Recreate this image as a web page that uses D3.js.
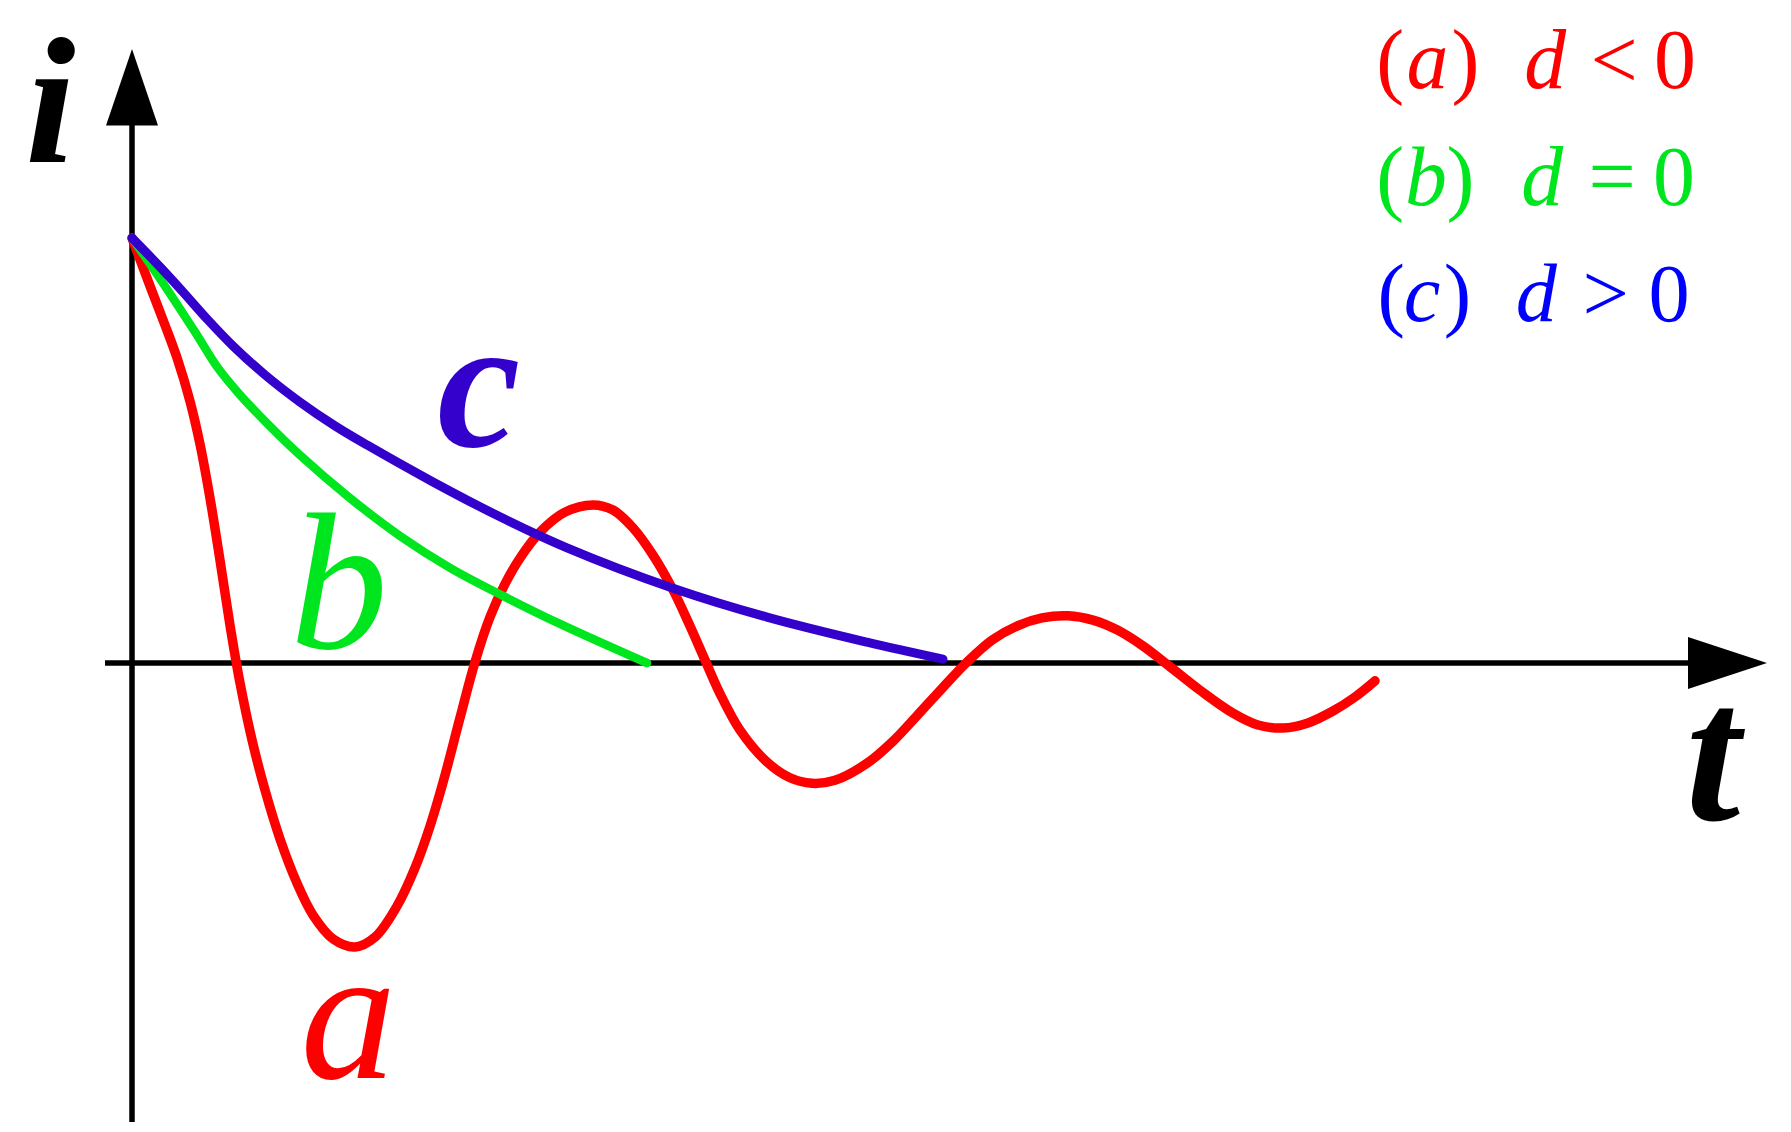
<!DOCTYPE html>
<html>
<head>
<meta charset="utf-8">
<script src="https://cdn.jsdelivr.net/npm/d3@7"></script>
<style>
html,body{margin:0;padding:0;background:#fff;}
svg{display:block;}
</style>
</head>
<body>
<svg id="chart" width="1791" height="1132"></svg>
<script>
// ---- data (t, i) ----
const seriesNames = ["a", "b", "c"];
const seriesColors = ["#ff0000", "#00e61e", "#3300cc"];
const legendColors = ["#ff0000", "#00e61e", "#0000ff"];
const legendOps = ["<", "=", ">"];

const redT = [0, 0.18, 0.33, 0.45, 0.58, 0.68, 0.78, 0.88, 0.98, 1.08, 1.20, 1.33, 1.48, 1.65, 1.81, 2.01, 2.23, 2.43, 2.65, 2.83, 2.98, 3.13, 3.28, 3.43, 3.58, 3.73, 3.88, 4.08, 4.33, 4.61, 4.81, 5.01, 5.21, 5.41, 5.58, 5.73, 5.88, 6.08, 6.35, 6.58, 6.80, 7.03, 7.35, 7.61, 7.85, 8.10, 8.35, 8.60, 8.85, 9.10, 9.36, 9.61, 9.85, 10.11, 10.36, 10.68, 11.01, 11.26, 11.51, 11.76, 12.01, 12.23, 12.43];
const redI = [1.000, 0.887, 0.795, 0.718, 0.616, 0.515, 0.388, 0.242, 0.089, -0.047, -0.181, -0.299, -0.414, -0.518, -0.593, -0.649, -0.668, -0.645, -0.572, -0.482, -0.384, -0.264, -0.129, 0.002, 0.108, 0.186, 0.247, 0.308, 0.355, 0.372, 0.360, 0.318, 0.254, 0.172, 0.087, 0.007, -0.072, -0.158, -0.233, -0.270, -0.283, -0.276, -0.236, -0.184, -0.124, -0.060, 0.002, 0.054, 0.087, 0.106, 0.111, 0.101, 0.078, 0.040, -0.005, -0.064, -0.118, -0.146, -0.153, -0.141, -0.113, -0.080, -0.042];

const greenT = [0, 0.33, 0.63, 0.86, 1.08, 1.33, 1.68, 2.18, 2.68, 3.18, 3.71, 4.28, 5.15];
const greenI = [1.0, 0.887, 0.779, 0.694, 0.631, 0.569, 0.489, 0.388, 0.299, 0.224, 0.158, 0.092, 0.0];

const blueT = [0, 0.28, 0.51, 0.76, 1.01, 1.33, 1.68, 2.03, 2.35, 3.01, 3.68, 4.35, 5.41, 6.35, 7.35, 8.11];
const blueI = [1.0, 0.932, 0.873, 0.807, 0.746, 0.678, 0.614, 0.558, 0.513, 0.426, 0.344, 0.271, 0.176, 0.108, 0.049, 0.009];

// ---- layout ----
const FAMILY = '"Liberation Serif", "Times New Roman", Tinos, "Nimbus Roman", "Nimbus Roman No9 L", FreeSerif, "DejaVu Serif", serif';
const svg = d3.select("#chart");
const x = d3.scaleLinear().domain([0, 16.35]).range([132, 1767]);
const y = d3.scaleLinear().domain([0, 1]).range([663, 238]);

const toPts = (ts, is) => ts.map((t, k) => [t, is[k]]);
const series = [
  {name: "a", pts: toPts(redT, redI), color: seriesColors[0], w: 9.5},
  {name: "b", pts: toPts(greenT, greenI), color: seriesColors[1], w: 8.5},
  {name: "c", pts: toPts(blueT, blueI), color: seriesColors[2], w: 9}
];

// axes
const axisW = 5.5;
svg.append("line").attr("x1", x(0)).attr("x2", x(0)).attr("y1", y(-1.08)).attr("y2", y(1.27))
  .attr("stroke", "#000").attr("stroke-width", axisW);
svg.append("line").attr("x1", x(-0.27)).attr("x2", x(15.6)).attr("y1", y(0)).attr("y2", y(0))
  .attr("stroke", "#000").attr("stroke-width", axisW);
const yTip = y(1.445), yBase = y(1.265);
svg.append("path").attr("d", `M${x(0)},${yTip} L${x(0) - 26},${yBase} L${x(0) + 26},${yBase} Z`).attr("fill", "#000");
const xTip = x(16.35), xBase = x(15.56);
svg.append("path").attr("d", `M${xTip},${y(0)} L${xBase},${y(0) - 26} L${xBase},${y(0) + 26} Z`).attr("fill", "#000");

// curves
series.forEach(s => {
  const line = d3.line().x(d => x(d[0])).y(d => y(d[1])).curve(d3.curveCatmullRom.alpha(0.5));
  svg.append("path").attr("d", line(s.pts)).attr("fill", "none")
    .attr("stroke", s.color).attr("stroke-width", s.w)
    .attr("stroke-linecap", "round").attr("stroke-linejoin", "round");
});

// ---- text helpers: size glyphs by their ink box ----
const ctx = document.createElement("canvas").getContext("2d");
function ink(str, style, weight) {
  ctx.font = `${style} ${weight} 100px ${FAMILY}`;
  const m = ctx.measureText(str);
  return {l: m.actualBoundingBoxLeft / 100, r: m.actualBoundingBoxRight / 100,
          a: m.actualBoundingBoxAscent / 100, d: m.actualBoundingBoxDescent / 100};
}
function addText(str, style, weight, color, size, cx, bottom) {
  const m = ink(str, style, weight);
  svg.append("text")
    .attr("x", cx - (m.r - m.l) * size / 2)
    .attr("y", bottom - m.d * size)
    .attr("font-family", FAMILY).attr("font-size", size)
    .attr("font-style", style).attr("font-weight", weight)
    .attr("fill", color).text(str);
}
function fitText(str, style, weight, color, x0, y0, x1, y1) {
  const m = ink(str, style, weight);
  const size = (y1 - y0) / (m.a + m.d);
  addText(str, style, weight, color, size, (x0 + x1) / 2, y1);
}

// axis labels
fitText("i", "italic", "bold", "#000", 32, 37, 73, 162);
fitText("t", "italic", "bold", "#000", 1695, 708, 1743, 822);

// curve labels
fitText(seriesNames[2], "italic", "bold", seriesColors[2], 440, 358, 517, 448);
fitText(seriesNames[1], "italic", "normal", seriesColors[1], 298, 513, 380, 650);
fitText(seriesNames[0], "italic", "normal", seriesColors[0], 302, 988, 393, 1080);

// legend
const legendBottom = [90, 207, 323];
const legendZeroH = [57, 57, 56];
const legendCx = [
  [1391, 1427, 1465, 1547, 1614, 1675],
  [1391, 1426, 1460, 1544, 1612, 1674],
  [1392, 1423, 1457, 1538, 1606, 1669]
];
seriesNames.forEach((nm, k) => {
  const mz = ink("0", "normal", "normal");
  const size = legendZeroH[k] / (mz.a + mz.d);
  const base = legendBottom[k] - mz.d * size;
  const pieces = [["(", "normal"], [nm, "italic"], [")", "normal"], ["d", "italic"], [legendOps[k], "normal"], ["0", "normal"]];
  pieces.forEach(([str, st], j) => {
    const m = ink(str, st, "normal");
    svg.append("text")
      .attr("x", legendCx[k][j] - (m.r - m.l) * size / 2)
      .attr("y", base)
      .attr("font-family", FAMILY).attr("font-size", size)
      .attr("font-style", st).attr("fill", legendColors[k]).text(str);
  });
});
</script>
</body>
</html>
